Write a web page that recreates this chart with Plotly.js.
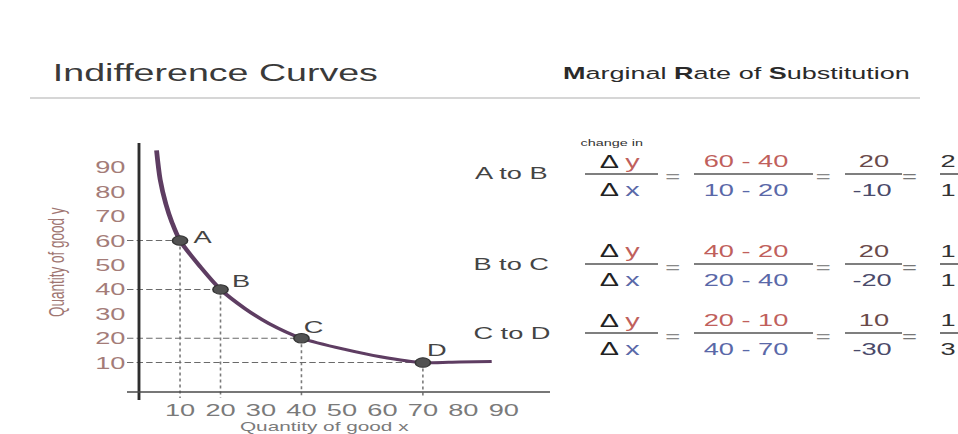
<!DOCTYPE html>
<html>
<head>
<meta charset="utf-8">
<script src="https://cdn.plot.ly/plotly-3.0.1.min.js"></script>
<style>
  html, body { margin: 0; padding: 0; background: #ffffff; overflow: hidden; }
  #wrap { width: 958px; height: 434px; overflow: hidden; }
  /* the figure is laid out narrow and widened horizontally */
  #chart { width: 599px; height: 434px; transform: scaleX(1.5993); transform-origin: 0 0; }
</style>
</head>
<body>
<div id="wrap"><div id="chart"></div></div>
<script>
// Bundles on one indifference curve
const pointLabels = ['A', 'B', 'C', 'D'];
const pointX = [10, 20, 40, 70];
const pointY = [60, 40, 20, 10];

// The indifference curve itself
const curveX = [4.2, 5.1, 6.5, 8, 10, 15, 20, 26, 32, 40, 51, 59.5, 70, 79, 87];
const curveY = [97, 85, 75, 67.5, 60, 49.3, 40, 32.2, 26, 20, 15.3, 12.4, 10, 10.3, 10.5];

// Axis ticks
const xTickVals = [10, 20, 30, 40, 50, 60, 70, 80, 90];
const yTickVals = [10, 20, 30, 40, 50, 60, 70, 80, 90];

// Moves between bundles for which the MRS is worked out
const moveFrom = [0, 1, 2];
const moveTo = [1, 2, 3];

const FONT = 'Liberation Sans, Arial, Helvetica, sans-serif';
const W = 958, H = 434;
const fx = p => p / W;          // horizontal page pixel -> paper
const fy = p => 1 - p / H;      // vertical page pixel -> paper

const xRange = [-3.1, 101.4];
const yRange = [-4.5, 100];

const traces = [];

// dashed guides from each bundle to both axes
pointX.forEach((x, i) => {
  traces.push({
    x: [xRange[0], x], y: [pointY[i], pointY[i]],
    mode: 'lines', hoverinfo: 'skip', showlegend: false,
    line: { color: '#6a6a6a', width: 1, dash: '4px,2px' }
  });
  traces.push({
    x: [x, x], y: [pointY[i], yRange[0]],
    mode: 'lines', hoverinfo: 'skip', showlegend: false,
    line: { color: '#7a7a7a', width: 1, dash: 'dot' }
  });
});

traces.push({
  x: curveX, y: curveY, mode: 'lines', showlegend: false, hoverinfo: 'skip',
  line: { color: '#5e3d62', width: 3, shape: 'spline', smoothing: 0.8 }
});

traces.push({
  x: pointX, y: pointY, mode: 'markers', showlegend: false,
  marker: { color: '#525252', size: 9.5, line: { color: '#333333', width: 1 } }
});

const annotations = [];
const shapes = [];

// point letters beside the markers
const labelShift = [[14.5, 3], [12.5, 8], [7.5, 11], [8.7, 12]];
pointLabels.forEach((lab, i) => {
  annotations.push({
    x: pointX[i], y: pointY[i], xref: 'x', yref: 'y', text: lab, showarrow: false,
    xanchor: 'center', yanchor: 'middle', xshift: labelShift[i][0], yshift: labelShift[i][1],
    font: { family: FONT, size: 17, color: '#444444' }
  });
});

function txt(x, y, text, size, color, anchor) {
  annotations.push({
    x: fx(x), y: fy(y), xref: 'paper', yref: 'paper', text: text, showarrow: false,
    xanchor: anchor || 'center', yanchor: 'middle',
    font: { family: FONT, size: size, color: color }
  });
}
function hline(x0, x1, y, color, width) {
  shapes.push({
    type: 'line', xref: 'paper', yref: 'paper',
    x0: fx(x0), x1: fx(x1), y0: fy(y), y1: fy(y),
    line: { color: color, width: width }
  });
}

// headings and rule
txt(50, 73, 'Indifference Curves', 23.5, '#3a3a3a', 'left');
txt(560, 73, '<b>M</b>arginal <b>R</b>ate of <b>S</b>ubstitution', 16.9, '#2a2a2a', 'left');
hline(30, 920, 98, '#d6d6d6', 2);

// axis lines
shapes.push({ type: 'line', xref: 'paper', yref: 'paper',
  x0: fx(139), x1: fx(139), y0: fy(143), y1: fy(400), line: { color: '#2e2e2e', width: 1.8 } });
hline(127, 550, 392, '#4a4a4a', 1.6);

// axis titles
annotations.push({
  x: fx(56), y: fy(262), xref: 'paper', yref: 'paper', text: 'Quantity of good y',
  textangle: -90, showarrow: false, xanchor: 'center', yanchor: 'middle',
  font: { family: FONT, size: 13.5, color: '#a07672' }
});
txt(325, 426, 'Quantity of good x', 13, '#7a7a7a');

// MRS worked examples
const rowLine = [174, 264, 333];
const RED = '#c0605c', BLUE = '#5a68a8';
const gcd = (a, b) => b ? gcd(b, a % b) : a;

txt(611, 143, 'change in', 9, '#333333');

moveFrom.forEach((f, r) => {
  const t = moveTo[r];
  const ly = rowLine[r];
  const ny = ly - 12.5, dy_ = ly + 16;
  const dY = pointY[f] - pointY[t];
  const dX = pointX[f] - pointX[t];
  const g = gcd(Math.abs(dY), Math.abs(dX));

  txt(511, ly, pointLabels[f] + ' to ' + pointLabels[t], 17, '#444444');

  // Δy / Δx
  txt(619, ny, 'Δ <span style="color:' + RED + '">y</span>', 18, '#222222');
  hline(585, 658, ly, '#555555', 1.6);
  txt(620, dy_, 'Δ <span style="color:' + BLUE + '">x</span>', 18, '#222222');
  txt(673, ly + 3, '=', 16, '#888888');

  // differences
  txt(746, ny, pointY[f] + ' - ' + pointY[t], 17, RED);
  hline(694, 813, ly, '#555555', 1.6);
  txt(746, dy_, pointX[f] + ' - ' + pointX[t], 17, BLUE);
  txt(823, ly + 3, '=', 16, '#888888');

  // change values
  txt(874, ny, String(dY), 17, '#6a4a4a');
  hline(845, 902, ly, '#555555', 1.6);
  txt(872, dy_, String(dX), 17, '#4a4a6a');
  txt(910, ly + 3, '=', 16, '#777777');

  // reduced ratio
  txt(948, ny, String(Math.abs(dY) / g), 17, '#333333');
  hline(940, 968, ly, '#555555', 1.6);
  txt(948, dy_, String(Math.abs(dX) / g), 17, '#333333');
});

const layout = {
  width: 599, height: 434,
  margin: { l: 0, r: 0, t: 0, b: 0, pad: 0 },
  paper_bgcolor: '#ffffff', plot_bgcolor: 'rgba(0,0,0,0)',
  showlegend: false,
  xaxis: {
    domain: [127 / W, 550 / W], range: xRange,
    tickmode: 'array', tickvals: xTickVals, ticktext: xTickVals.map(String),
    showgrid: false, zeroline: false, showline: false, ticks: '',
    tickfont: { family: FONT, size: 17, color: '#7a7a7a' }, automargin: false
  },
  yaxis: {
    domain: [1 - 398 / H, 1 - 143 / H], range: yRange,
    tickmode: 'array', tickvals: yTickVals, ticktext: yTickVals.map(String),
    showgrid: false, zeroline: false, showline: false, ticks: '',
    tickfont: { family: FONT, size: 17, color: '#a47c78' }, automargin: false
  },
  annotations: annotations,
  shapes: shapes
};

Plotly.newPlot('chart', traces, layout, { displayModeBar: false, staticPlot: true });
</script>
</body>
</html>
